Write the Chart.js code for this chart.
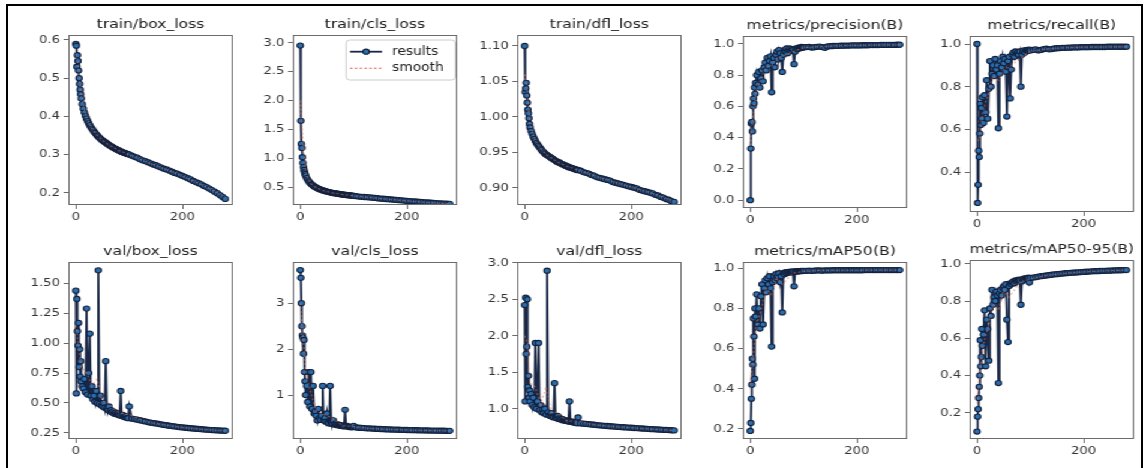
<!DOCTYPE html>
<html><head><meta charset="utf-8">
<script src="https://cdn.jsdelivr.net/npm/chart.js@4.4.1/dist/chart.umd.min.js"></script>
<style>
html,body{margin:0;padding:0;background:#fff;width:1145px;height:468px;overflow:hidden;position:relative;}
#frame{position:absolute;left:6px;top:4px;width:1137px;height:520px;border:2px solid #000;box-sizing:border-box;}
#stage{position:absolute;left:0;top:0;width:955px;height:468px;transform-origin:0 0;transform:scaleX(1.2);}
#stage canvas{position:absolute;}
</style></head><body>
<div id="frame"></div>
<div id="stage"></div>
<script>
// ---- data ----
const epochs = [0,1,2,3,4,5,6,7,8,9,10,
  12,14,16,18,20,22,24,26,28,30,32,34,36,38,40,42,44,46,48,50,52,54,56,58,60,62,64,66,68,70,
  72,74,76,78,80,82,84,86,88,90,92,94,96,98,100,
  105,110,115,120,125,130,135,140,145,150,155,160,165,170,175,180,185,190,195,200,
  205,210,215,220,225,230,235,240,245,250,255,260,265,270,275,280];
const smoothEpochs = [0,5,10,20,30,40,50,60,80,100,130,160,200,240,280];

const titles = ['train/box_loss','train/cls_loss','train/dfl_loss','metrics/precision(B)','metrics/recall(B)',
  'val/box_loss','val/cls_loss','val/dfl_loss','metrics/mAP50(B)','metrics/mAP50-95(B)'];
const legendLabels = ['results','smooth'];
const xTickLabels = ['0','200'];

const trainBox = [0.590,0.585,0.530,0.560,0.545,0.520,0.500,0.485,0.470,0.458,0.447,
  0.432,0.420,0.410,0.401,0.394,0.388,0.382,0.377,0.372,0.368,
  0.364,0.360,0.357,0.353,0.350,0.347,0.344,0.342,0.339,0.337,
  0.335,0.333,0.331,0.329,0.327,0.325,0.323,0.322,0.320,0.318,
  0.317,0.315,0.314,0.312,0.311,0.310,0.308,0.307,0.306,0.305,
  0.304,0.303,0.302,0.301,0.300,
  0.297,0.294,0.292,0.288,0.285,0.283,0.280,0.277,0.274,0.272,0.269,0.266,0.263,0.261,0.258,0.255,0.252,0.250,
  0.247,0.244,0.241,0.238,0.235,0.231,0.228,0.225,0.222,0.218,0.215,0.211,0.207,0.203,0.199,0.194,0.189,0.184];
const trainCls = [2.950,1.650,1.250,1.180,1.020,0.920,0.850,0.800,0.760,0.730,0.700,
  0.660,0.630,0.600,0.580,0.560,0.545,0.530,0.515,0.505,0.495,
  0.485,0.475,0.468,0.460,0.453,0.447,0.441,0.436,0.431,0.426,
  0.421,0.417,0.413,0.409,0.405,0.401,0.398,0.395,0.392,0.389,
  0.386,0.383,0.380,0.377,0.375,0.372,0.370,0.367,0.365,0.363,
  0.361,0.359,0.357,0.355,0.353,
  0.346,0.340,0.336,0.332,0.329,0.325,0.321,0.317,0.311,0.305,0.302,0.298,0.294,0.290,0.286,0.282,0.278,0.274,
  0.270,0.265,0.262,0.258,0.255,0.251,0.248,0.244,0.241,0.237,0.234,0.230,0.227,0.223,0.220,0.218,0.216,0.215];
const trainDfl = [1.100,1.035,1.040,1.048,1.030,1.020,1.010,1.005,0.998,0.990,0.985,
  0.980,0.976,0.972,0.969,0.966,0.963,0.961,0.959,0.957,0.955,
  0.953,0.951,0.950,0.948,0.947,0.946,0.945,0.944,0.943,0.942,
  0.941,0.940,0.939,0.938,0.937,0.936,0.936,0.935,0.934,0.933,
  0.933,0.932,0.931,0.931,0.930,0.929,0.929,0.928,0.928,0.927,
  0.927,0.926,0.926,0.925,0.925,
  0.924,0.922,0.921,0.920,0.918,0.917,0.915,0.914,0.913,0.912,0.911,0.910,0.908,0.907,0.906,0.905,0.904,0.903,
  0.902,0.901,0.900,0.899,0.897,0.896,0.895,0.894,0.893,0.892,0.890,0.889,0.887,0.886,0.884,0.883,0.881,0.880];
const precision = [0.000,0.330,0.490,0.500,0.440,0.600,0.650,0.620,0.720,0.680,0.750,
  0.800,0.740,0.820,0.720,0.780,0.830,0.760,0.850,0.880,0.830,
  0.910,0.860,0.890,0.920,0.690,0.880,0.910,0.850,0.930,0.950,
  0.900,0.960,0.940,0.910,0.820,0.930,0.960,0.950,0.970,0.940,
  0.960,0.970,0.955,0.965,0.960,0.870,0.950,0.970,0.965,0.975,
  0.970,0.975,0.980,0.975,0.978,
  0.979,0.980,0.976,0.978,0.981,0.982,0.979,0.975,0.983,0.985,0.986,0.987,0.987,0.988,0.988,0.989,0.989,0.990,
  0.990,0.990,0.990,0.991,0.991,0.991,0.992,0.992,0.992,0.992,0.993,0.993,0.993,0.993,0.993,0.993,0.994,0.994];
const recall = [1.000,0.255,0.340,0.500,0.470,0.580,0.720,0.620,0.700,0.650,0.750,
  0.630,0.760,0.680,0.830,0.650,0.790,0.920,0.800,0.860,0.900,
  0.850,0.930,0.880,0.900,0.605,0.860,0.920,0.890,0.940,0.910,
  0.930,0.870,0.660,0.920,0.940,0.745,0.880,0.950,0.960,0.940,
  0.965,0.955,0.960,0.950,0.965,0.800,0.950,0.965,0.970,0.960,
  0.970,0.972,0.968,0.974,0.970,
  0.972,0.975,0.970,0.972,0.976,0.978,0.975,0.976,0.979,0.980,0.981,0.982,0.982,0.983,0.983,0.984,0.984,0.984,
  0.985,0.985,0.985,0.985,0.986,0.986,0.986,0.986,0.986,0.986,0.987,0.987,0.987,0.987,0.987,0.987,0.987,0.987];
const valBox = [1.440,0.580,1.370,1.100,0.980,1.170,0.800,0.950,0.720,0.850,0.680,
  0.640,0.620,0.700,0.590,1.290,0.570,0.750,1.080,0.560,0.640,
  0.530,0.560,0.510,0.600,0.500,1.610,0.490,0.560,0.480,0.470,
  0.500,0.460,0.850,0.450,0.440,0.470,0.430,0.440,0.420,0.430,
  0.410,0.420,0.405,0.410,0.400,0.395,0.600,0.390,0.400,0.385,
  0.380,0.390,0.375,0.372,0.470,
  0.368,0.365,0.360,0.355,0.350,0.345,0.340,0.335,0.331,0.328,0.324,0.320,0.316,0.313,0.309,0.306,0.303,0.300,
  0.297,0.295,0.292,0.290,0.288,0.286,0.284,0.282,0.280,0.278,0.276,0.275,0.273,0.272,0.270,0.269,0.268,0.267];
const valCls = [3.720,3.550,3.000,2.500,2.300,2.250,1.900,2.200,1.500,1.300,1.000,
  1.200,0.850,1.500,0.750,1.500,0.700,1.200,0.600,0.650,0.550,
  0.450,0.700,0.500,0.460,0.550,1.200,0.450,0.500,0.420,0.600,
  0.400,0.380,1.200,0.400,0.370,0.450,0.360,0.380,0.350,0.360,
  0.340,0.350,0.330,0.340,0.325,0.320,0.680,0.320,0.330,0.310,
  0.305,0.310,0.300,0.305,0.330,
  0.295,0.290,0.286,0.282,0.278,0.275,0.271,0.268,0.265,0.262,0.259,0.257,0.254,0.252,0.250,0.248,0.246,0.244,
  0.242,0.241,0.239,0.238,0.236,0.235,0.233,0.232,0.231,0.230,0.229,0.228,0.227,0.226,0.225,0.224,0.223,0.222];
const valDfl = [2.420,1.100,2.520,1.750,1.850,2.500,1.300,1.450,1.150,1.250,1.100,
  1.200,1.050,1.150,1.020,1.900,1.000,1.100,1.900,0.980,1.050,
  0.950,0.990,0.940,1.000,0.920,2.890,0.950,0.910,0.900,0.940,
  0.890,0.880,1.350,0.880,0.870,0.900,0.860,0.870,0.850,0.860,
  0.840,0.845,0.835,0.840,0.830,0.825,1.100,0.820,0.825,0.815,
  0.810,0.815,0.805,0.800,0.880,
  0.798,0.795,0.791,0.788,0.784,0.780,0.776,0.773,0.769,0.766,0.763,0.760,0.757,0.754,0.751,0.749,0.746,0.744,
  0.741,0.739,0.736,0.734,0.731,0.729,0.726,0.724,0.721,0.719,0.717,0.715,0.713,0.711,0.709,0.707,0.705,0.703];
const mAP50 = [0.190,0.230,0.350,0.420,0.550,0.520,0.750,0.660,0.450,0.800,0.760,
  0.870,0.720,0.800,0.700,0.860,0.920,0.720,0.900,0.940,0.880,
  0.950,0.920,0.960,0.900,0.610,0.930,0.960,0.940,0.970,0.950,
  0.960,0.975,0.930,0.960,0.780,0.975,0.970,0.980,0.975,0.980,
  0.982,0.978,0.983,0.980,0.984,0.910,0.982,0.985,0.984,0.986,
  0.985,0.986,0.987,0.986,0.987,
  0.987,0.988,0.987,0.988,0.989,0.989,0.988,0.989,0.989,0.989,0.990,0.990,0.990,0.990,0.990,0.990,0.990,0.990,
  0.990,0.990,0.990,0.990,0.991,0.991,0.991,0.991,0.991,0.991,0.991,0.991,0.991,0.991,0.991,0.991,0.991,0.991];
const mAP5095 = [0.100,0.180,0.220,0.280,0.340,0.400,0.590,0.450,0.500,0.650,0.560,
  0.620,0.750,0.450,0.700,0.650,0.480,0.760,0.720,0.860,0.780,
  0.820,0.800,0.850,0.830,0.360,0.840,0.860,0.830,0.870,0.880,
  0.860,0.890,0.700,0.580,0.880,0.895,0.890,0.900,0.905,0.895,
  0.910,0.905,0.912,0.915,0.910,0.780,0.905,0.918,0.920,0.915,
  0.922,0.920,0.925,0.900,0.924,
  0.926,0.928,0.931,0.933,0.935,0.937,0.939,0.941,0.943,0.944,0.946,0.947,0.949,0.950,0.951,0.952,0.953,0.954,
  0.955,0.956,0.957,0.958,0.959,0.960,0.960,0.961,0.962,0.962,0.963,0.963,0.964,0.964,0.965,0.965,0.966,0.966];

const smTrainBox = [0.565,0.530,0.455,0.396,0.369,0.350,0.337,0.327,0.311,0.300,0.282,0.266,0.244,0.218,0.190];
const smTrainCls = [2.000,1.300,0.750,0.560,0.495,0.453,0.426,0.405,0.375,0.353,0.325,0.298,0.265,0.237,0.215];
const smTrainDfl = [1.060,1.035,0.990,0.966,0.955,0.947,0.942,0.937,0.930,0.925,0.917,0.910,0.901,0.892,0.881];
const smPrecision = [0.350,0.520,0.680,0.780,0.850,0.860,0.910,0.920,0.950,0.975,0.982,0.987,0.990,0.992,0.994];
const smRecall = [0.550,0.550,0.670,0.760,0.850,0.830,0.880,0.890,0.930,0.965,0.977,0.982,0.985,0.986,0.987];
const smValBox = [1.150,0.980,0.800,0.750,0.650,0.700,0.520,0.500,0.420,0.400,0.345,0.320,0.295,0.278,0.267];
const smValCls = [3.000,2.300,1.450,1.050,0.650,0.600,0.550,0.500,0.330,0.320,0.275,0.257,0.241,0.230,0.222];
const smValDfl = [2.000,1.900,1.350,1.300,1.050,1.300,0.950,0.950,0.830,0.830,0.780,0.760,0.739,0.719,0.703];
const smMAP50 = [0.400,0.550,0.700,0.790,0.900,0.870,0.950,0.920,0.975,0.984,0.989,0.990,0.990,0.991,0.991];
const smMAP5095 = [0.250,0.400,0.550,0.650,0.780,0.750,0.860,0.820,0.900,0.918,0.937,0.947,0.956,0.962,0.966];

const yTickLabels = [
  ['0.2','0.3','0.4','0.5','0.6'],
  ['0.5','1.0','1.5','2.0','2.5','3.0'],
  ['0.90','0.95','1.00','1.05','1.10'],
  ['0.0','0.2','0.4','0.6','0.8','1.0'],
  ['0.4','0.6','0.8','1.0'],
  ['0.25','0.50','0.75','1.00','1.25','1.50'],
  ['1','2','3'],
  ['1.0','1.5','2.0','2.5','3.0'],
  ['0.2','0.4','0.6','0.8','1.0'],
  ['0.2','0.4','0.6','0.8','1.0']
];

const results = [trainBox,trainCls,trainDfl,precision,recall,valBox,valCls,valDfl,mAP50,mAP5095];
const smooths = [smTrainBox,smTrainCls,smTrainDfl,smPrecision,smRecall,smValBox,smValCls,smValDfl,smMAP50,smMAP5095];

// ---- axis ranges & layout ----
const yRanges = [[0.168,0.613],[0.194,3.133],[0.8756,1.1155],[-0.05,1.05],[0.2125,1.0375],
  [0.198,1.68],[0.045,3.895],[0.585,3.01],[0.15,1.031],[0.06,1.02]];
const xRange = [-14, 294];
// plot-area boxes in page pixels: left, top, width, height
const boxes = [[68,35,165,170],[293,35,165,170],[517,35,165,170],[743,36,165,172],[970,36,166,176],
  [68,262,165,177],[293,262,165,177],[517,262,165,177],[743,262,165,177],[970,260,166,179]];

const S = 1.2, YW = 40, RP = 4, TH = 24, XH = 22;
const FONT = 'DejaVu Sans';
const RES_LINE = '#1a2846', RES_FILL = '#2a6fb0', RES_EDGE = '#14213d', SMOOTH = 'rgba(232,115,74,0.55)';
const FRAME = '#6b6b6b';

const framePlugin = {
  id: 'frameBox',
  afterDatasetsDraw(chart) {
    const {ctx, chartArea: a} = chart;
    ctx.save();
    ctx.strokeStyle = FRAME; ctx.lineWidth = 1;
    ctx.strokeRect(Math.round(a.left) + 0.5, Math.round(a.top) + 0.5,
      Math.round(a.right - a.left) - 1, Math.round(a.bottom - a.top) - 1);
    ctx.restore();
  }
};

const legendPlugin = {
  id: 'miniLegend',
  afterDraw(chart, args, opts) {
    if (!opts.show) return;
    const {ctx, chartArea: a} = chart;
    const w = 91, h = 40, x = a.right - 1.5 - w, y = a.top + 5, r = 3;
    ctx.save();
    ctx.beginPath();
    ctx.moveTo(x + r, y); ctx.lineTo(x + w - r, y); ctx.quadraticCurveTo(x + w, y, x + w, y + r);
    ctx.lineTo(x + w, y + h - r); ctx.quadraticCurveTo(x + w, y + h, x + w - r, y + h);
    ctx.lineTo(x + r, y + h); ctx.quadraticCurveTo(x, y + h, x, y + h - r);
    ctx.lineTo(x, y + r); ctx.quadraticCurveTo(x, y, x + r, y); ctx.closePath();
    ctx.fillStyle = 'rgba(255,255,255,0.85)'; ctx.fill();
    ctx.strokeStyle = '#cccccc'; ctx.lineWidth = 1; ctx.stroke();
    const y1 = y + 11.7, y2 = y + 28.3;
    ctx.strokeStyle = RES_LINE; ctx.lineWidth = 1.8;
    ctx.beginPath(); ctx.moveTo(x + 3.3, y1); ctx.lineTo(x + 30, y1); ctx.stroke();
    ctx.beginPath(); ctx.arc(x + 16.7, y1, 2.6, 0, Math.PI * 2);
    ctx.fillStyle = RES_FILL; ctx.fill(); ctx.strokeStyle = RES_EDGE; ctx.lineWidth = 1.1; ctx.stroke();
    ctx.setLineDash([2, 2]); ctx.strokeStyle = 'rgba(225,100,80,0.9)'; ctx.lineWidth = 1.2;
    ctx.beginPath(); ctx.moveTo(x + 3.3, y2); ctx.lineTo(x + 30, y2); ctx.stroke();
    ctx.setLineDash([]);
    ctx.fillStyle = '#222'; ctx.font = '11.5px "' + FONT + '"'; ctx.textBaseline = 'middle'; ctx.textAlign = 'left';
    ctx.fillText(legendLabels[0], x + 38.3, y1);
    ctx.fillText(legendLabels[1], x + 38.3, y2);
    ctx.restore();
  }
};

const stage = document.getElementById('stage');
titles.forEach((title, i) => {
  const [L, T, W, H] = boxes[i];
  const cw = Math.round(YW + W / S + RP), ch = TH + H + XH;
  const cv = document.createElement('canvas');
  cv.width = cw; cv.height = ch;
  cv.style.width = cw + 'px'; cv.style.height = ch + 'px';
  cv.style.left = (L / S - YW) + 'px'; cv.style.top = (T - TH) + 'px';
  stage.appendChild(cv);
  const pts = epochs.map((e, k) => ({x: e, y: results[i][k]}));
  const spts = smoothEpochs.map((e, k) => ({x: e, y: smooths[i][k]}));
  const yl = yTickLabels[i];
  const tickFont = {family: FONT, size: 11};
  new Chart(cv, {
    type: 'line',
    data: {datasets: [
      {label: legendLabels[1], data: spts, order: 0, borderColor: SMOOTH, borderWidth: 1.2,
        borderDash: [2, 2], pointRadius: 0, fill: false},
      {label: legendLabels[0], data: pts, order: 1, borderColor: RES_LINE, borderWidth: 1.8,
        pointRadius: 2.6, pointBackgroundColor: RES_FILL, pointBorderColor: RES_EDGE,
        pointBorderWidth: 1.1, fill: false}
    ]},
    options: {
      responsive: false, animation: false, devicePixelRatio: 1,
      layout: {padding: {left: 0, right: RP, top: 0, bottom: 0}},
      plugins: {
        legend: {display: false}, tooltip: {enabled: false},
        title: {display: true, text: title, fullSize: false, color: '#222',
          font: {family: FONT, size: 13, weight: 'normal', lineHeight: 1.2},
          padding: {top: 6.2, bottom: 2.2}},
        miniLegend: {show: i === 1}
      },
      scales: {
        x: {type: 'linear', min: xRange[0], max: xRange[1],
          afterBuildTicks: s => { s.ticks = xTickLabels.map(t => ({value: parseFloat(t)})); },
          afterFit: s => { s.height = XH; },
          ticks: {font: tickFont, color: '#333', padding: 2, maxRotation: 0, minRotation: 0, autoSkip: false,
            callback: v => xTickLabels.find(t => parseFloat(t) === v)},
          grid: {drawOnChartArea: false, drawTicks: true, tickLength: 4, color: FRAME},
          border: {display: false}},
        y: {type: 'linear', min: yRanges[i][0], max: yRanges[i][1],
          afterBuildTicks: s => { s.ticks = yl.map(t => ({value: parseFloat(t)})); },
          afterFit: s => { s.width = YW; },
          ticks: {font: tickFont, color: '#333', padding: 3, autoSkip: false,
            callback: v => yl.find(t => Math.abs(parseFloat(t) - v) < 1e-9)},
          grid: {drawOnChartArea: false, drawTicks: true, tickLength: 4, color: FRAME},
          border: {display: false}}
      }
    },
    plugins: [framePlugin, legendPlugin]
  });
});
</script>
</body></html>
